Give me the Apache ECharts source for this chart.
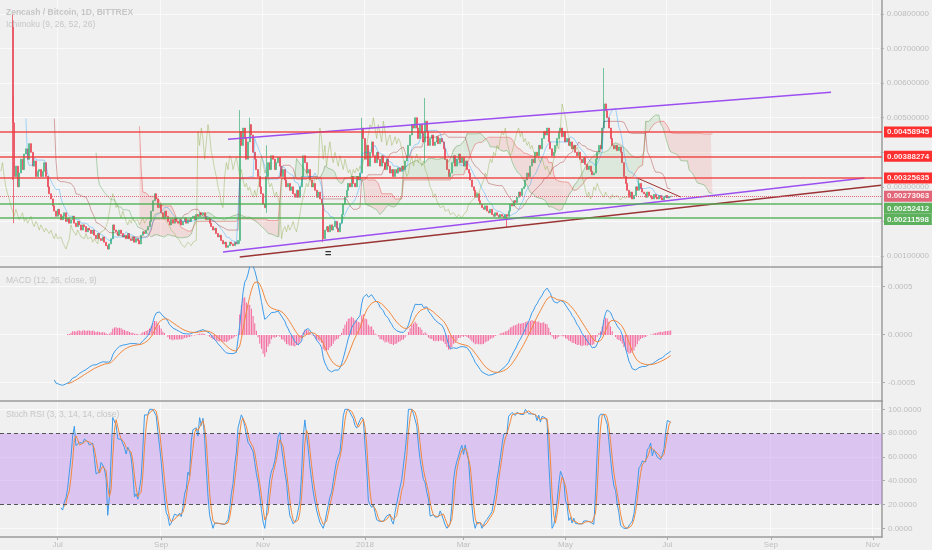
<!DOCTYPE html>
<html><head><meta charset="utf-8">
<script src="https://cdn.jsdelivr.net/npm/echarts@6/dist/echarts.min.js"></script>
<style>html,body{margin:0;padding:0;background:#f0f0f0}#c{width:932px;height:550px}</style>
</head><body><div id="c"></div>
<script>
// ---------- data (price values in units of 1e-5 BTC) ----------
const axisStart = '2017-05-28';      // first category of the time axis
const axisDays = 528;                // categories on the axis
const firstCandleOffset = 7;         // 2017-06-04 = first candle
const firstOpen = 780;
const closes = [
 485,330,360,300,340,380,350,395,410,380,
 425,400,360,375,330,345,350,330,345,370,
 330,300,280,265,245,230,215,235,220,205,
 215,225,200,210,195,205,215,195,185,200,
 190,175,190,185,170,180,175,165,175,160,
 150,165,150,145,155,140,130,120,135,150,
 190,175,170,160,175,165,155,160,150,165,
 150,145,155,140,150,145,135,160,170,165,
 175,185,200,230,260,280,265,240,250,225,
 210,230,215,200,190,205,195,210,200,195,
 205,190,200,210,195,205,200,210,215,205,
 220,215,225,220,225,215,205,210,195,185,
 175,180,165,155,160,145,135,140,125,130,
 140,135,130,140,135,145,460,420,470,440,
 380,430,480,450,400,380,350,330,300,280,
 250,240,330,370,350,390,380,350,370,385,
 360,330,350,320,300,310,290,300,280,270,
 290,270,300,330,390,370,340,350,320,300,
 310,290,270,285,265,250,150,175,185,170,
 190,175,185,200,180,170,195,220,250,270,
 290,310,300,330,310,300,330,320,340,470,
 440,380,420,360,400,430,390,370,400,380,
 360,390,370,350,380,360,340,350,330,350,
 340,355,345,360,350,375,390,420,450,480,
 470,500,470,440,480,455,430,490,460,420,
 440,450,420,430,445,425,440,430,410,380,
 350,330,340,370,390,360,380,395,370,385,
 360,375,350,340,320,300,290,270,280,260,
 250,240,235,245,230,225,235,220,215,225,
 218,212,220,215,210,220,215,230,250,245,
 260,255,270,285,275,295,300,320,340,330,
 360,380,370,400,390,420,410,440,460,450,
 470,430,410,390,400,420,440,460,470,445,
 460,430,440,420,430,410,420,400,390,400,
 380,370,385,365,350,360,345,335,340,380,
 400,420,410,470,540,520,500,470,440,420,
 410,420,405,415,400,370,330,310,290,270,
 285,265,275,300,290,310,295,285,280,270,
 285,275,270,265,278,270,265,275,268,262,
 270,275,268,272,273.063
];
// notable wicks: [day, high, low]
const wicks = [[0,800,320],[1,560,195],[136,522,135],[142,500,null],[152,420,225],[186,null,140],
  [209,500,null],[247,557,370],[296,null,184],[354,644,null],[375,326,null]];
const levelValues = [0.00458945, 0.00388274, 0.00325635, 0.00273063, 0.00252412, 0.00211598];
const levelKinds  = ['res','res','res','last','sup','sup'];
// trend lines: [day, price]
const channelUpper = [[129, 0.00438], [490, 0.00574]];
const channelLower = [[126, 0.001115], [510, 0.003255]];
const supportTrend = [[136, 0.00097], [520, 0.00305]];
const wedgeTop     = [[374, 0.003256], [400, 0.002706]];
const markDay = 189, markPrice = 0.00106;
const monthNames = ['Jan','Feb','Mar','Apr','May','Jun','Jul','Aug','Sep','Oct','Nov','Dec'];

// ---------- derived ----------
const S = 1e-5;
const dates = [];
const t0 = Date.parse(axisStart + 'T00:00:00Z');
for (let i = 0; i < axisDays; i++) dates.push(new Date(t0 + i * 864e5).toISOString().slice(0, 10));
const opens = closes.map((c, i) => i === 0 ? firstOpen : closes[i - 1]);
const highs = closes.map((c, i) => Math.max(c, opens[i]));
const lows  = closes.map((c, i) => Math.min(c, opens[i]));
wicks.forEach(([d, h, l]) => { if (h != null) highs[d] = h; if (l != null) lows[d] = l; });

function place(arr, shift, scale) {
  const out = new Array(axisDays).fill('-');
  arr.forEach((v, i) => { const k = i + firstCandleOffset + shift; if (v != null && k >= 0 && k < axisDays) out[k] = v * scale; });
  return out;
}
const candleData = new Array(axisDays).fill('-');
closes.forEach((c, i) => { candleData[i + firstCandleOffset] = [opens[i] * S, c * S, lows[i] * S, highs[i] * S]; });

// Ichimoku (9, 26, 52, 26)
function donchian(len) {
  return closes.map((_, i) => i < len - 1 ? null :
    (Math.max(...highs.slice(i - len + 1, i + 1)) + Math.min(...lows.slice(i - len + 1, i + 1))) / 2);
}
const tenkan = donchian(9), kijun = donchian(26), spanB = donchian(52);
const spanA = tenkan.map((t, i) => t == null || kijun[i] == null ? null : (t + kijun[i]) / 2);
const A = place(spanA, 25, 1), B = place(spanB, 25, 1);
const both = i => A[i] !== '-' && B[i] !== '-';
const cloudBase = A.map((a, i) => both(i) ? Math.min(a, B[i]) * S : '-');
const cloudUp   = A.map((a, i) => both(i) ? Math.max(a - B[i], 0) * S : '-');
const cloudDown = A.map((a, i) => both(i) ? Math.max(B[i] - a, 0) * S : '-');

// MACD (12, 26, close, 9)
function ema(src, len) {
  const out = new Array(src.length).fill(null); const a = 2 / (len + 1);
  let prev = null, run = 0;
  for (let i = 0; i < src.length; i++) {
    if (src[i] == null) continue;
    run++;
    if (prev == null) { if (run >= len) { let s = 0; for (let j = i - len + 1; j <= i; j++) s += src[j]; prev = s / len; out[i] = prev; } }
    else { prev = a * src[i] + (1 - a) * prev; out[i] = prev; }
  }
  return out;
}
const e12 = ema(closes, 12), e26 = ema(closes, 26);
const macd = closes.map((_, i) => e12[i] == null || e26[i] == null ? null : e12[i] - e26[i]);
const signal = ema(macd, 9);
const hist = macd.map((m, i) => m == null || signal[i] == null ? null : m - signal[i]);

// Stoch RSI (3, 3, 14, 14, close)
function rsi(src, len) {
  const out = new Array(src.length).fill(null); let ag = 0, al = 0;
  for (let i = 1; i < src.length; i++) {
    const ch = src[i] - src[i - 1], g = Math.max(ch, 0), l = Math.max(-ch, 0);
    if (i < len) { ag += g; al += l; }
    else {
      if (i === len) { ag = (ag + g) / len; al = (al + l) / len; }
      else { ag = (ag * (len - 1) + g) / len; al = (al * (len - 1) + l) / len; }
      out[i] = al === 0 ? 100 : 100 - 100 / (1 + ag / al);
    }
  }
  return out;
}
function sma(src, len) {
  return src.map((_, i) => { if (i < len - 1) return null; const w = src.slice(i - len + 1, i + 1); return w.some(v => v == null) ? null : w.reduce((a, b) => a + b, 0) / len; });
}
const r = rsi(closes, 14);
const stochRaw = r.map((v, i) => {
  if (i < 13) return null; const w = r.slice(i - 13, i + 1); if (w.some(x => x == null)) return null;
  const lo = Math.min(...w), hi = Math.max(...w); return hi === lo ? 50 : 100 * (v - lo) / (hi - lo);
});
const kLine = sma(stochRaw, 3), dLine = sma(kLine, 3);

// ---------- chart ----------
const FONT = 'Liberation Sans, Arial, sans-serif';
const GRID_LINE = '#fafafa';
const isLabelDay = (i, v) => v.slice(8) === '01' && [1,3,5,7,9,11].includes(+v.slice(5, 7));
const fmtMonth = v => { const m = +v.slice(5, 7); return m === 1 ? v.slice(0, 4) : monthNames[m - 1]; };
const trend = (pts) => pts.map(([d, p]) => [d + firstCandleOffset, p]);

const levelStyle = {
  res:  { line: '#f03a3a', box: '#ff1a1a', type: 'solid',  width: 1.5 },
  last: { line: '#e0566a', box: '#e0566a', type: 'dotted', width: 1 },
  sup:  { line: '#4caf50', box: '#4caa4c', type: 'solid',  width: 1.5 }
};
const levelLabelShift = [0, 0, 0, 0, 5, 2];

function catX(gi, showLabels) {
  return {
    type: 'category', gridIndex: gi, data: dates, boundaryGap: true, position: 'bottom',
    axisLine: { show: true, onZero: false, lineStyle: { color: '#9a9a9a', width: 1.5 } },
    axisTick: { show: showLabels, interval: isLabelDay, alignWithLabel: true, length: 3, lineStyle: { color: '#aaa' } },
    axisLabel: { show: showLabels, interval: isLabelDay, formatter: fmtMonth, color: '#bdbdbd', fontSize: 8, fontFamily: FONT, margin: 4 },
    splitLine: { show: true, interval: isLabelDay, lineStyle: { color: GRID_LINE, width: 1 } }
  };
}
function plotY(gi, min, max) {
  return { type: 'value', gridIndex: gi, position: 'right', min, max, scale: true,
    axisLine: { show: true, onZero: false, lineStyle: { color: '#9a9a9a', width: 1.5 } },
    axisTick: { show: false }, axisLabel: { show: false }, splitLine: { show: false } };
}
function labelY(gi, min, max, interval, fmt) {
  return { type: 'value', gridIndex: gi, position: 'right', min, max, interval,
    axisLine: { show: false, onZero: false },
    axisTick: { show: true, length: 3, lineStyle: { color: '#aaa' } },
    axisLabel: { color: '#bdbdbd', fontSize: 8, fontFamily: FONT, margin: 6, formatter: fmt },
    splitLine: { show: true, lineStyle: { color: GRID_LINE, width: 1 } } };
}
const hiddenX = gi => ({ type: 'value', gridIndex: gi, show: false, min: 0, max: 1, axisLine: { onZero: false } });

const thin = (color, opacity, width) => ({ type: 'line', symbol: 'none', silent: true, lineStyle: { color, opacity, width: width || 1 } });

const levelLines = {
  symbol: ['none', 'none'], silent: true, animation: false, precision: 10,
  data: levelValues.map((v, i) => { const st = levelStyle[levelKinds[i]]; return {
    yAxis: v, lineStyle: { color: st.line, width: st.width, type: st.type, opacity: 0.9 },
    label: { show: true, position: 'end', distance: 2, formatter: v.toFixed(8), backgroundColor: st.box, color: '#fff',
      fontSize: 8, fontWeight: 'bold', fontFamily: FONT, padding: [2, 3, 1, 3], offset: [0, levelLabelShift[i]] } }; })
};

const option = {
  animation: false,
  backgroundColor: '#f0f0f0',
  textStyle: { fontFamily: FONT },
  grid: [
    { left: 0, right: 50, top: 0, height: 267 },
    { left: 0, right: 50, top: 14, height: 242 },
    { left: 0, right: 50, top: 267, height: 134 },
    { left: 0, right: 50, top: 286.7, height: 96 },
    { left: 0, right: 50, top: 401, height: 136 },
    { left: 0, right: 50, top: 409.3, height: 119 }
  ],
  xAxis: [catX(0, false), hiddenX(1), catX(2, false), hiddenX(3), catX(4, true), hiddenX(5)],
  yAxis: [
    plotY(0, 0.000682, 0.008405),
    labelY(1, 0.001, 0.008, 0.001, v => (Math.abs(v - 0.002) < 1e-9 || Math.abs(v - 0.004) < 1e-9) ? '' : v.toFixed(8)),
    plotY(2, -0.000688, 0.000708),
    labelY(3, -0.0005, 0.0005, 0.0005, v => v.toFixed(4)),
    plotY(4, -7.3, 107),
    labelY(5, 0, 100, 20, v => v.toFixed(4))
  ],
  graphic: [
    { type: 'text', left: 6, top: 8, silent: true, z: 100, style: { text: 'Zencash / Bitcoin, 1D, BITTREX', fill: '#c6c6c6', font: 'bold 8.5px ' + FONT } },
    { type: 'text', left: 6, top: 20, silent: true, z: 100, style: { text: 'Ichimoku (9, 26, 52, 26)', fill: '#c6c6c6', font: '8.5px ' + FONT } },
    { type: 'text', left: 6, top: 276, silent: true, z: 100, style: { text: 'MACD (12, 26, close, 9)', fill: '#c6c6c6', font: '8.5px ' + FONT } },
    { type: 'text', left: 6, top: 410, silent: true, z: 100, style: { text: 'Stoch RSI (3, 3, 14, 14, close)', fill: '#c6c6c6', font: '8.5px ' + FONT } }
  ],
  series: [
    // Ichimoku cloud
    { type: 'line', xAxisIndex: 0, yAxisIndex: 0, stack: 'cloud', data: cloudBase, symbol: 'none', silent: true, lineStyle: { opacity: 0 } },
    { type: 'line', xAxisIndex: 0, yAxisIndex: 0, stack: 'cloud', data: cloudUp, symbol: 'none', silent: true, lineStyle: { opacity: 0 }, areaStyle: { color: 'rgba(76,175,80,0.16)' } },
    { type: 'line', xAxisIndex: 0, yAxisIndex: 0, stack: 'cloud', data: cloudDown, symbol: 'none', silent: true, lineStyle: { opacity: 0 }, areaStyle: { color: 'rgba(239,83,80,0.2)' } },
    Object.assign(thin('#43a047', 0.4), { xAxisIndex: 0, yAxisIndex: 0, data: A.map(v => v === '-' ? '-' : v * S) }),
    Object.assign(thin('#e53935', 0.4), { xAxisIndex: 0, yAxisIndex: 0, data: B.map(v => v === '-' ? '-' : v * S) }),
    Object.assign(thin('#8fae4a', 0.55, 0.8), { xAxisIndex: 0, yAxisIndex: 0, data: place(closes, -25, S) }),
    Object.assign(thin('#991515', 0.45, 0.8), { xAxisIndex: 0, yAxisIndex: 0, data: place(kijun, 0, S) }),
    Object.assign(thin('#0496ff', 0.45, 0.8), { xAxisIndex: 0, yAxisIndex: 0, data: place(tenkan, 0, S) }),
    // candles
    { type: 'candlestick', xAxisIndex: 0, yAxisIndex: 0, data: candleData, barWidth: 1.5, silent: true,
      itemStyle: { color: '#53b987', color0: '#eb4d5c', borderColor: '#53b987', borderColor0: '#eb4d5c', borderWidth: 0.8 },
      markPoint: { silent: true, symbol: 'rect', symbolSize: 1, itemStyle: { color: 'rgba(0,0,0,0)' },
        label: { show: true, formatter: '=', color: '#333', fontSize: 11, fontWeight: 'bold' },
        data: [{ coord: [markDay + firstCandleOffset, markPrice] }] } },
    // trend lines (+ horizontal levels)
    Object.assign(thin('#9c4ff0', 1, 1.5), { xAxisIndex: 0, yAxisIndex: 0, data: trend(channelUpper), markLine: levelLines }),
    Object.assign(thin('#9c4ff0', 1, 1.5), { xAxisIndex: 0, yAxisIndex: 0, data: trend(channelLower) }),
    Object.assign(thin('#9b3535', 1, 1.5), { xAxisIndex: 0, yAxisIndex: 0, data: trend(supportTrend) }),
    Object.assign(thin('#a03030', 1, 1), { xAxisIndex: 0, yAxisIndex: 0, data: trend(wedgeTop) }),
    // MACD
    { type: 'bar', xAxisIndex: 2, yAxisIndex: 2, data: place(hist, 0, S), barWidth: 1, silent: true, itemStyle: { color: '#f4669c' } },
    Object.assign(thin('#3d9be9', 1), { xAxisIndex: 2, yAxisIndex: 2, data: place(macd, 0, S) }),
    Object.assign(thin('#f0883e', 1), { xAxisIndex: 2, yAxisIndex: 2, data: place(signal, 0, S) }),
    // Stoch RSI
    Object.assign(thin('#3d9be9', 1), { xAxisIndex: 4, yAxisIndex: 4, data: place(kLine, 0, 1),
      markArea: { silent: true, itemStyle: { color: 'rgba(190,130,240,0.4)' }, data: [[{ yAxis: 20 }, { yAxis: 80 }]] },
      markLine: { silent: true, symbol: ['none', 'none'], label: { show: false },
        lineStyle: { color: '#555', type: [4, 3], width: 1 }, data: [{ yAxis: 80 }, { yAxis: 20 }] } }),
    Object.assign(thin('#f0883e', 1), { xAxisIndex: 4, yAxisIndex: 4, data: place(dLine, 0, 1) })
  ]
};
echarts.init(document.getElementById('c')).setOption(option);
</script>
</body></html>
